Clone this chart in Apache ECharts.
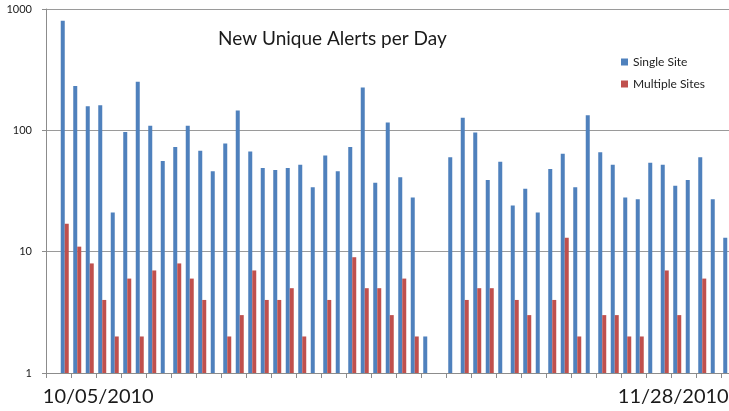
<!DOCTYPE html>
<html>
<head>
<meta charset="utf-8">
<script src="https://cdn.jsdelivr.net/npm/echarts@6/dist/echarts.min.js"></script>
<style>
html,body{margin:0;padding:0;background:#fff;overflow:hidden;width:729px;height:411px;}
/* chart runs a little past the window on the right, like the cropped original */
#main{width:746px;height:411px;}
</style>
</head>
<body>
<div id="main"></div>
<script>
// one slot per day, slot 0 and slot 31 carry no bars
var singleSite = [null, 800, 232, 158, 161, 21, 97, 251, 109, 56, 73, 109, 68, 46, 78, 146,
	67, 49, 47, 49, 52, 34, 62, 46, 73, 225, 37, 116, 41, 28, 2, null,
	60, 127, 96, 39, 55, 24, 33, 21, 48, 64, 34, 133, 66, 52, 28, 27, 54, 52, 35, 39, 60, 27, 13, null];
var multipleSites = [null, 17, 11, 8, 4, 2, 6, 2, 7, null, 8, 6, 4, null, 2, 3,
	7, 4, 4, 5, 2, null, 4, null, 9, 5, 5, 3, 6, 2, null, null,
	null, 4, 5, 5, null, 4, 3, null, 4, 13, 2, null, 3, 3, 2, 2, null, 7, 3, null, 6, null, null, null];
var seriesNames = ['Single Site', 'Multiple Sites'];
var xLabels = ['10/05/2010', '11/28/2010'];
var xLabelSlots = [4, 50];
var yTicks = [1, 10, 100, 1000];

var days = [];
for (var i = 0; i < singleSite.length; i++) {
	days.push(String(i));
}

var myChart = echarts.init(document.getElementById('main'));

var option = {
	animation: false,
	color: ['#4F81BD', '#C0504D'],
	title: {
		text: 'New Unique Alerts per Day',
		left: 213,
		top: 24,
		textStyle: { fontFamily: 'Lato', fontSize: 19, fontWeight: 'normal', color: '#1a1a1a' }
	},
	legend: {
		orient: 'vertical',
		left: 616,
		top: 51,
		itemWidth: 7,
		itemHeight: 7,
		itemGap: 10,
		icon: 'rect',
		textStyle: { fontFamily: 'Lato', fontSize: 12, color: '#222' },
		data: seriesNames
	},
	grid: {
		left: 46,
		right: 0,
		top: 9,
		bottom: 38,
		containLabel: false
	},
	xAxis: {
		type: 'category',
		data: days,
		boundaryGap: true,
		axisLine: { lineStyle: { color: '#8c8c8c', width: 1 } },
		axisTick: { show: true, interval: 1, length: 5, lineStyle: { color: '#8c8c8c' } },
		axisLabel: {
			interval: function (idx) { return xLabelSlots.indexOf(idx) >= 0; },
			formatter: function (val, idx) {
				var k = xLabelSlots.indexOf(idx);
				return k >= 0 ? xLabels[k] : '';
			},
			fontFamily: 'Lato',
			fontSize: 20,
			color: '#1a1a1a',
			margin: 14,
			padding: [0, 8, 0, 0]
		},
		splitLine: { show: false }
	},
	yAxis: {
		type: 'log',
		logBase: 10,
		min: yTicks[0],
		max: yTicks[yTicks.length - 1],
		axisLine: { show: true, lineStyle: { color: '#8c8c8c', width: 1 } },
		axisTick: { show: true, length: 4, lineStyle: { color: '#8c8c8c' } },
		axisLabel: {
			formatter: function (v) { return String(Math.round(v)); },
			fontFamily: 'Lato',
			fontSize: 11,
			color: '#1a1a1a',
			margin: 14
		},
		splitLine: { show: true, lineStyle: { color: '#9a9a9a', width: 1 } }
	},
	series: [
		{
			name: seriesNames[0],
			type: 'bar',
			barWidth: 4,
			barGap: '0%',
			data: singleSite
		},
		{
			name: seriesNames[1],
			type: 'bar',
			barWidth: 4,
			barGap: '0%',
			data: multipleSites
		}
	]
};

myChart.setOption(option);
</script>
</body>
</html>
